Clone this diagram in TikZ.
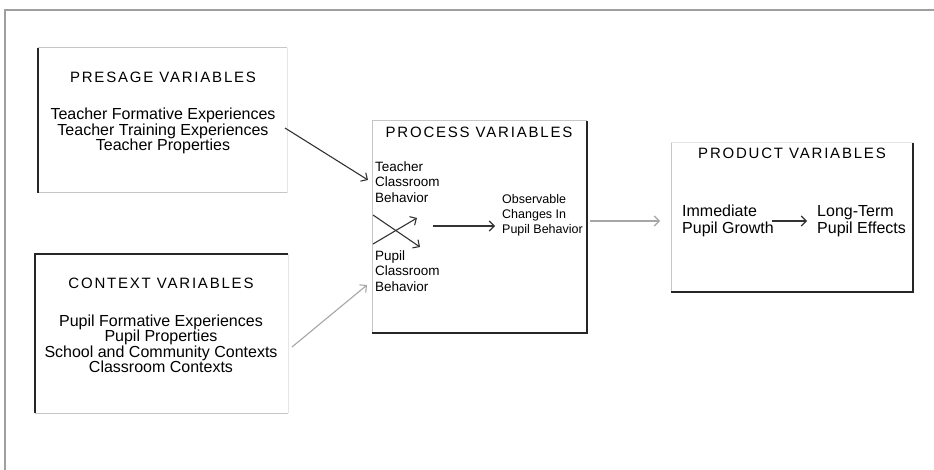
\documentclass[tikz,border=0pt]{standalone}
\usepackage{fontspec}
\setmainfont{Liberation Sans}
\newfontfamily\titlefont[LetterSpace=12]{Liberation Sans}
\usetikzlibrary{arrows.meta,calc}
\begin{document}
\begin{tikzpicture}[x=1pt,y=-1pt,
  boxarea/.style={rectangle, inner sep=0pt, outer sep=0pt},
  ttl/.style={inner sep=0pt, font=\titlefont\fontsize{15}{15}\selectfont},
  body/.style={inner sep=0pt, align=center, font=\fontsize{16}{15.5}\selectfont},
  small/.style={inner sep=0pt, align=left, font=\fontsize{13.5}{15.5}\selectfont},
  prodtxt/.style={inner sep=0pt, align=left, font=\fontsize{16}{17}\selectfont},
  darkside/.style={draw=black!85, line width=1.6pt},
  lightside/.style={draw=gray!45, line width=1pt},
  faintside/.style={draw=gray!20, line width=1pt},
  arr/.style={draw=black!80, line width=1.1pt, -{Straight Barb[length=5pt,width=10pt]}},
  arrgray/.style={draw=gray!70, line width=1.1pt, -{Straight Barb[length=5pt,width=10pt]}}]
\useasboundingbox (0,0) rectangle (934,470);
\fill[white] (0,0) rectangle (934,470);
% outer frame
\draw[gray!75, line width=1.6pt] (5,470) -- (5,10) -- (934,10);

% box areas
\node[boxarea, minimum width=249pt, minimum height=145pt] (pres) at (162.5,120.5) {};
\node[boxarea, minimum width=253pt, minimum height=159pt] (ctx) at (161.5,333.5) {};
\node[boxarea, minimum width=215pt, minimum height=212pt] (proc) at (479.5,227) {};
\node[boxarea, minimum width=242pt, minimum height=149pt] (prod) at (792,217.5) {};

% presage sides
\draw[lightside] (pres.north west) -- (pres.north east);
\draw[faintside] (pres.north east) -- (pres.south east);
\draw[lightside] (pres.south west) -- (pres.south east);
\draw[darkside] (pres.north west) -- (pres.south west);
% context sides
\draw[faintside] (ctx.north east) -- (ctx.south east);
\draw[lightside] (ctx.south west) -- (ctx.south east);
\draw[darkside] (ctx.south west) -- (ctx.north west) -- (ctx.north east);
% process sides
\draw[lightside] (proc.south west) -- (proc.north west) -- (proc.north east);
\draw[darkside] (proc.north east) -- (proc.south east) -- (proc.south west);
% product sides
\draw[faintside] (prod.north west) -- (prod.north east);
\draw[lightside] (prod.north west) -- (prod.south west);
\draw[darkside] (prod.north east) -- (prod.south east) -- (prod.south west);

% texts
\node[ttl] (presT) at (163,77) {PRESAGE VARIABLES};
\node[body] (presB) at (163,131) {Teacher Formative Experiences\\Teacher Training Experiences\\Teacher Properties};
\node[ttl] (ctxT) at (161,283) {CONTEXT VARIABLES};
\node[body] (ctxB) at (161,344) {Pupil Formative Experiences\\Pupil Properties\\School and Community Contexts\\Classroom Contexts};
\node[ttl] (procT) at (479,132) {PROCESS VARIABLES};
\node[small, anchor=west] (tcb) at (375,182) {Teacher\\Classroom\\Behavior};
\node[small, anchor=west] (pcb) at (375,271) {Pupil\\Classroom\\Behavior};
\node[small, anchor=west, font=\fontsize{12.5}{15}\selectfont] (obs) at (502,215) {Observable\\Changes In\\Pupil Behavior};
\node[ttl] (prodT) at (792,153) {PRODUCT VARIABLES};
\node[prodtxt, anchor=west] (imm) at (682,221) {Immediate\\Pupil Growth};
\node[prodtxt, anchor=west] (lt) at (817,221) {Long-Term\\Pupil Effects};

% connectors
\draw[arr] ($(pres.north east)+(-2,80)$) -- ($(tcb.west)+(-7,-2)$);
\draw[arrgray] ($(ctx.east)+(4,13.5)$) -- ($(pcb.west)+(-8,14)$);
\coordinate (xa1) at (373,215);
\coordinate (xa2) at (420,247);
\coordinate (xb1) at (373,244);
\coordinate (xb2) at (417,218);
\draw[arr] (xa1) -- (xa2);
\draw[arr] (xb1) -- (xb2);
\coordinate (ia) at (433,226);
\draw[arr] (ia) -- ($(obs.west |- ia)+(-7,0)$);
\draw[arrgray] ($(proc.east |- ia)+(3,-5)$) -- ($(prod.west |- ia)+(-11,-5)$);
\draw[arr] ($(imm.east)+(-2,0)$) -- ($(lt.west)+(-10,0)$);
\end{tikzpicture}
\end{document}
